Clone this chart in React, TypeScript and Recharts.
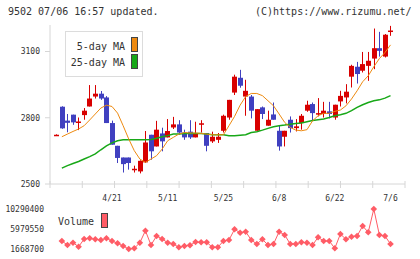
import { ComposedChart, Bar, Line, LineChart, XAxis, YAxis } from 'recharts';

const FONT = '"DejaVu Sans Mono", "Liberation Mono", monospace';
const RED = '#d80000';
const BLUE = '#4040c0';
const ORANGE = '#ee8a10';
const GREEN = '#18a818';
const VOL = '#ff5c66';
const AXIS = '#d6d6d6';

// trading-day labels under the price chart (index of the candle they sit on)
const dateLabels = ['4/21', '5/11', '5/25', '6/8', '6/22', '7/6'];
const dateIndex = [10, 20, 30, 40, 50, 60];

const opens = [
  2722, 2850, 2787, 2814, 2781, 2812, 2851, 2896, 2909, 2892,
  2776, 2673, 2620, 2620, 2566, 2557, 2598, 2723, 2670, 2729,
  2711, 2756, 2770, 2733, 2737, 2711, 2772, 2731, 2693, 2700,
  2741, 2801, 2914, 2981, 2896, 2896, 2741, 2847, 2764, 2815,
  2741, 2714, 2791, 2753, 2776, 2832, 2862, 2814, 2817, 2829,
  2801, 2874, 2892, 2986, 3031, 3013, 3035, 3068, 3115, 3077,
  3192,
];
const highs = [
  2725, 2852, 2817, 2814, 2801, 2844, 2948, 2948, 2921, 2898,
  2787, 2673, 2620, 2620, 2583, 2607, 2740, 2723, 2786, 2755,
  2794, 2804, 2789, 2746, 2789, 2782, 2789, 2731, 2737, 2731,
  2814, 2881, 2995, 3017, 2972, 2903, 2839, 2851, 2832, 2869,
  2764, 2741, 2806, 2794, 2817, 2877, 2869, 2889, 2872, 2872,
  2859, 2922, 2952, 3040, 3053, 3098, 3098, 3204, 3189, 3179,
  3216,
];
const lows = [
  2721, 2750, 2734, 2768, 2744, 2791, 2851, 2887, 2881, 2776,
  2678, 2595, 2552, 2565, 2552, 2548, 2595, 2610, 2670, 2648,
  2711, 2749, 2723, 2700, 2704, 2711, 2733, 2648, 2686, 2686,
  2733, 2791, 2903, 2936, 2809, 2797, 2741, 2794, 2764, 2791,
  2651, 2670, 2733, 2738, 2746, 2827, 2786, 2806, 2801, 2797,
  2791, 2851, 2865, 2937, 2955, 3005, 2967, 3020, 3077, 3073,
  3171,
];
const closes = [
  2723, 2752, 2777, 2779, 2783, 2832, 2887, 2909, 2887, 2776,
  2678, 2618, 2590, 2595, 2569, 2605, 2688, 2648, 2746, 2693,
  2740, 2770, 2733, 2711, 2711, 2729, 2775, 2673, 2714, 2714,
  2809, 2881, 2986, 2945, 2922, 2832, 2839, 2817, 2791, 2791,
  2670, 2741, 2753, 2761, 2809, 2859, 2821, 2821, 2832, 2817,
  2859, 2899, 2918, 3035, 2998, 3043, 3058, 3115, 3103, 3176,
  3195,
];
const ma5 = [
  null, 2714, 2726, 2738, 2749, 2764, 2790, 2817, 2844, 2857,
  2851, 2821, 2764, 2704, 2651, 2613, 2598, 2613, 2628, 2658,
  2696, 2711, 2726, 2733, 2731, 2731, 2729, 2726, 2723, 2723,
  2723, 2764, 2806, 2857, 2896, 2910, 2910, 2900, 2877, 2854,
  2817, 2779, 2756, 2744, 2741, 2746, 2786, 2809, 2820, 2820,
  2829, 2835, 2854, 2885, 2922, 2963, 2990, 3031, 3068, 3095,
  3130,
];
const ma25 = [
  null, 2572, 2583, 2593, 2602, 2613, 2624, 2636, 2655, 2673,
  2686, 2696, 2700, 2700, 2700, 2700, 2700, 2702, 2707, 2714,
  2719, 2726, 2726, 2729, 2729, 2729, 2729, 2726, 2723, 2723,
  2723, 2719, 2719, 2721, 2723, 2733, 2737, 2744, 2752, 2759,
  2764, 2767, 2771, 2774, 2776, 2782, 2788, 2791, 2794, 2801,
  2809, 2814, 2820, 2832, 2847, 2859, 2869, 2877, 2881, 2889,
  2900,
];
const volumes = [
  null, 3390000, 2530000, 3030000, 2160000, 3820000, 3980000, 3760000, 3610000, 3980000,
  3390000, 2900000, 2320000, 1668700, 1820000, 3030000, 5610000, 2530000, 4470000, 3820000,
  3030000, 2750000, 2040000, 2320000, 2470000, 3180000, 3110000, 3130000, 2040000, 2040000,
  3390000, 3610000, 5910000, 5180000, 5400000, 3610000, 2750000, 3760000, 2530000, 2750000,
  5400000, 4690000, 2750000, 2750000, 3110000, 3030000, 2530000, 4190000, 3390000, 3390000,
  1820000, 4900000, 3760000, 4320000, 4470000, 6630000, 5270000, 10290400, 4690000, 4470000,
  2750000,
];

const priceTicks = [2500, 2800, 3100];
const volumeTicks = [1668700, 5979550, 10290400];

const X_DOMAIN: [number, number] = [-1.13, 62.6];
const markTicks = Array.from({ length: 12 }, (_, k) => X_DOMAIN[0] + (k * (X_DOMAIN[1] - X_DOMAIN[0])) / 11);

const priceRows = opens.map((o, i) => ({
  i, o, h: highs[i], l: lows[i], c: closes[i], ma5: ma5[i], ma25: ma25[i],
}));
const volumeRows = volumes.map((v, i) => ({ i, v }));

function Candle(props: any) {
  const { x, y, width, height, payload } = props;
  const { o, h, l, c } = payload;
  const cx = Math.round(x + width / 2);
  const top = Math.min(y, y + height);
  const hh = Math.abs(height);
  const ppu = h - l > 0 ? hh / (h - l) : 0;
  const yOf = (v: number) => top + (h - v) * ppu;
  const color = c >= o ? RED : BLUE;
  const bt = yOf(Math.max(o, c));
  const bb = yOf(Math.min(o, c));
  return (
    <g>
      <line x1={cx + 0.5} x2={cx + 0.5} y1={top} y2={top + hh} stroke={color} strokeWidth={1} />
      <rect x={cx - 2} y={bt} width={5} height={Math.max(bb - bt, 1.5)} fill={color} />
    </g>
  );
}

function DateTick({ x, y, payload }: any) {
  const k = dateIndex.indexOf(payload.value);
  if (k < 0) {
    return <line x1={x} x2={x} y1={y - 3} y2={y + 4} stroke={AXIS} strokeWidth={1} />;
  }
  return (
    <text x={x} y={y + 17} textAnchor="middle" fontSize={8} fill="#333" fontFamily={FONT}>
      {dateLabels[k]}
    </text>
  );
}

function Diamond({ cx, cy }: any) {
  if (cy == null || isNaN(cy)) return null;
  const r = 3.3;
  return <polygon points={`${cx},${cy - r} ${cx + r},${cy} ${cx},${cy + r} ${cx - r},${cy}`} fill={VOL} />;
}

const txt: React.CSSProperties = {
  position: 'absolute', fontFamily: FONT, fontSize: 10, lineHeight: '12px', color: '#333', whiteSpace: 'pre',
};

export default function App() {
  return (
    <div style={{ position: 'absolute', left: 0, top: 0, width: 420, height: 259, background: '#fff', overflow: 'hidden' }}>
      <div style={{ ...txt, left: 8, top: 6 }}>9502 07/06 16:57 updated.</div>
      <div style={{ ...txt, left: 255, top: 6 }}>(C)https://www.rizumu.net/</div>

      <div style={{ position: 'absolute', left: 0, top: 0 }}>
        <ComposedChart width={420} height={205} data={priceRows} margin={{ top: 25, right: 15, bottom: 0, left: 0 }}>
          <XAxis
            type="number"
            dataKey="i"
            domain={X_DOMAIN}
            allowDataOverflow
            ticks={[...markTicks, ...dateIndex]}
            interval={0}
            tickLine={false}
            tickSize={0}
            tickMargin={0}
            tick={<DateTick />}
            axisLine={{ stroke: AXIS }}
            height={21}
          />
          <YAxis
            domain={[2500, 3220]}
            allowDataOverflow
            ticks={priceTicks}
            width={50}
            tickSize={5}
            tickMargin={5}
            tick={{ fontSize: 8, fill: '#333', fontFamily: FONT }}
            axisLine={{ stroke: AXIS }}
            tickLine={{ stroke: AXIS }}
          />
          <Bar dataKey={(d: any) => [d.l, d.h]} barSize={5} shape={<Candle />} isAnimationActive={false} />
          <Line type="linear" dataKey="ma25" stroke={GREEN} strokeWidth={1.5} dot={false} isAnimationActive={false} />
          <Line type="linear" dataKey="ma5" stroke={ORANGE} strokeWidth={1} dot={false} isAnimationActive={false} />
        </ComposedChart>
      </div>

      <div style={{ position: 'absolute', left: 65, top: 31, width: 76, height: 44, border: '1px solid #dcdcdc', background: '#fff' }}>
        <div style={{ ...txt, right: 17, top: 9 }}>5-day MA</div>
        <div style={{ ...txt, right: 17, top: 25 }}>25-day MA</div>
        <div style={{ position: 'absolute', left: 65, top: 5, width: 5, height: 13, background: ORANGE, border: '1px solid #444' }} />
        <div style={{ position: 'absolute', left: 65, top: 22, width: 5, height: 13, background: GREEN, border: '1px solid #444' }} />
      </div>

      <div style={{ position: 'absolute', left: 0, top: 200 }}>
        <LineChart width={420} height={59} data={volumeRows} margin={{ top: 9, right: 15, bottom: 10, left: 0 }}>
          <XAxis type="number" dataKey="i" domain={X_DOMAIN} allowDataOverflow hide />
          <YAxis
            domain={[volumeTicks[0], volumeTicks[2]]}
            ticks={volumeTicks}
            width={50}
            axisLine={false}
            tickLine={false}
            tickSize={4}
            tickMargin={2}
            tick={{ fontSize: 8, fill: '#333', fontFamily: FONT }}
          />
          <Line type="linear" dataKey="v" stroke={VOL} strokeWidth={1} dot={<Diamond />} isAnimationActive={false} />
        </LineChart>
      </div>

      <div style={{ ...txt, left: 58, top: 216 }}>Volume</div>
      <div style={{ position: 'absolute', left: 101, top: 213, width: 5, height: 13, background: VOL, border: '1px solid #444' }} />
    </div>
  );
}
